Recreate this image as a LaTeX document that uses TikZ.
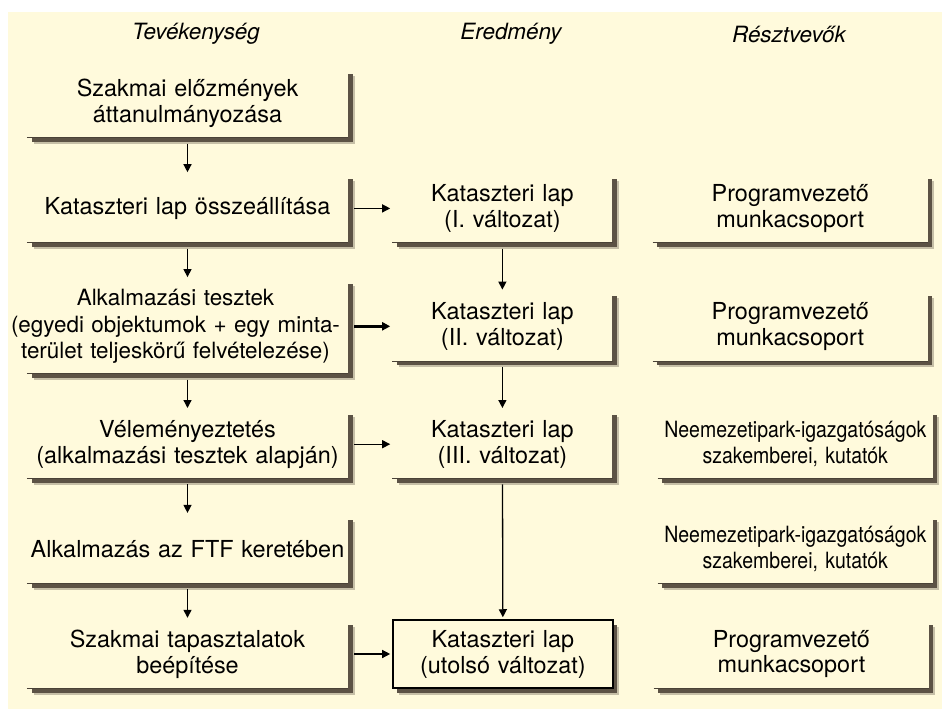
\documentclass[tikz,border=0pt]{standalone}
\usepackage{fontspec}
\setmainfont{TeX Gyre Heros}
\newfontfamily\narrowfont{TeX Gyre Heros}[FakeStretch=0.87]
\usetikzlibrary{positioning,shadows,arrows.meta}
\definecolor{paper}{RGB}{255,250,220}
\definecolor{shade}{RGB}{92,82,69}
\newcommand{\overlong}[1]{\makebox[321bp]{\kern-24bp#1}}

\begin{document}
\begin{tikzpicture}[node distance=36.5bp,>={Triangle[length=8bp,width=8bp]},
    every node/.style={font=\fontsize{23.5}{26}\selectfont},
    box/.style={fill=paper,text width=#1,minimum height=68bp,inner sep=0pt,align=center,
      drop shadow={shadow xshift=6.5bp,shadow yshift=-6.5bp,fill=shade,opacity=.35},
      drop shadow={shadow xshift=4.5bp,shadow yshift=-4.5bp,fill=shade,opacity=1}},
    narrow/.style={font=\narrowfont\fontsize{22.5}{26}\selectfont},
    head/.style={font=\itshape\fontsize{22.5}{26}\selectfont},
    rim/.style={shade!80!black,line width=1bp},
    arr/.style={->,line width=1.3bp,shorten <=6bp,shorten >=2bp}]
  \useasboundingbox (0,0) rectangle (942bp,-709bp);
  \fill[paper] (8bp,-12bp) rectangle (942bp,-709bp);
  % headings
  \node[head] (h_act) at (196bp,-34bp) {Tevékenység};
  \node[head] (h_res) at (511bp,-34bp) {Eredmény};
  \node[head] (h_who) at (789bp,-34bp) {Résztvevők};
  % activities
  \node[box=321bp] (l_1) at (187.5bp,-103.5bp) {Szakmai előzmények\\áttanulmányozása};
  \node[box=321bp] (l_2) [below=of l_1] {Kataszteri lap összeállítása};
  \node[box=321bp,minimum height=94bp,font=\fontsize{22.5}{26.5}\selectfont] (l_3) [below=of l_2]
    {\overlong{Alkalmazási tesztek}\\\overlong{(egyedi objektumok + egy minta-}\\\overlong{terület teljeskörű felvételezése)}};
  \node[box=321bp] (l_4) [below=of l_3] {Véleményeztetés\\(alkalmazási tesztek alapján)};
  \node[box=321bp] (l_5) [below=of l_4] {Alkalmazás az FTF keretében};
  \node[box=321bp] (l_6) [below=of l_5] {Szakmai tapasztalatok\\beépítése};
  % results
  \node[box=220bp] (m_1) [right=44bp of l_2] {Kataszteri lap\\(I. változat)};
  \node[box=220bp,minimum height=69bp] (m_2) [right=44bp of l_3] {Kataszteri lap\\(II. változat)};
  \node[box=220bp] (m_3) [right=44bp of l_4] {Kataszteri lap\\(III. változat)};
  \node[box=220bp,draw=black,line width=1.5bp] (m_f) [right=44bp of l_6] {Kataszteri lap\\(utolsó változat)};
  % participants
  \node[box=275bp] (r_1) [right=40bp of m_1] {Programvezető\\munkacsoport};
  \node[box=275bp,minimum height=69bp] (r_2) [right=40bp of m_2] {Programvezető\\munkacsoport};
  \node[box=275bp,narrow] (r_3) [right=45bp of m_3] {Neemezetipark-igazgatóságok\\szakemberei, kutatók};
  \node[box=275bp,narrow] (r_4) at (r_3 |- l_5) {Neemezetipark-igazgatóságok\\szakemberei, kutatók};
  \node[box=275bp] (r_5) [right=40bp of m_f] {Programvezető\\munkacsoport};
  \foreach \b in {l_1,l_2,l_3,l_4,l_5,l_6,m_1,m_2,m_3,r_1,r_2,r_3,r_4,r_5}
    \draw[rim] (\b.south west) -- (\b.south east);
  \path[arr]
    (l_1) edge (l_2)
    (l_2) edge (l_3)
    (l_3) edge (l_4)
    (l_4) edge (l_5)
    (l_5) edge (l_6)
    (l_2) edge (m_1)
    (l_3) edge [line width=2.6bp] (m_2)
    (l_4) edge (m_3)
    (l_6) edge (m_f)
    (m_1) edge (m_2)
    (m_2) edge (m_3)
    (m_3) edge (m_f)
    ; %end path
\end{tikzpicture}
\end{document}
